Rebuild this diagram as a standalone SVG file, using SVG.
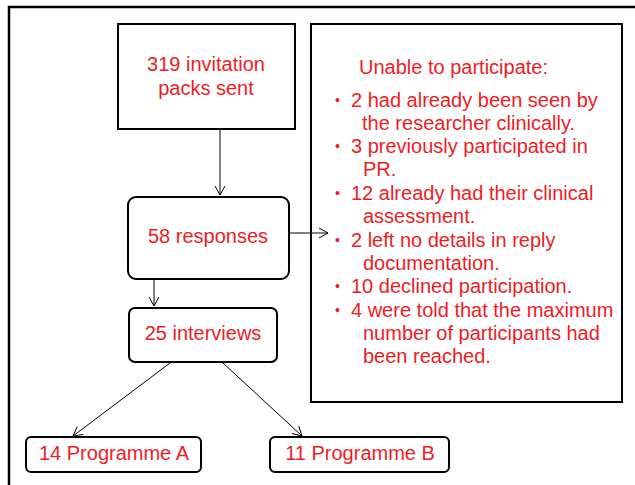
<svg xmlns="http://www.w3.org/2000/svg" width="635" height="485" viewBox="0 0 635 485">
<style>
.box{fill:#fff;stroke:#000;stroke-width:2}
.t{font-family:"Liberation Sans",Arial,sans-serif;font-size:20px;fill:#ee1c25}
.b{font-size:14px}
.c{text-anchor:middle}
.con{stroke:#000;stroke-width:1;fill:none}
</style>
<defs>
<marker id="ah" markerWidth="12" markerHeight="12" refX="10" refY="6" orient="auto" markerUnits="userSpaceOnUse">
<path d="M1,1 L10,6 L1,11" fill="none" stroke="#000" stroke-width="1"/>
</marker>
</defs>
<rect x="9" y="7" width="700" height="600" fill="#fff" stroke="#000" stroke-width="2.5"/>
<g id="n1">
<rect class="box" x="118" y="24" width="177" height="105"/>
<text class="t c" x="206" y="71">319 invitation</text>
<text class="t c" x="206" y="95">packs sent</text>
</g>
<g id="n3">
<rect class="box" x="311" y="24" width="311" height="378"/>
<text class="t" x="359" y="74">Unable to participate:</text>
<g class="t">
<text class="b" x="335" y="105">•</text><text x="351" y="107">2 had already been seen by</text>
<text x="362" y="130">the researcher clinically.</text>
<text class="b" x="335" y="151">•</text><text x="351" y="153">3 previously participated in</text>
<text x="363" y="176">PR.</text>
<text class="b" x="335" y="198">•</text><text x="351" y="200">12 already had their clinical</text>
<text x="363" y="223">assessment.</text>
<text class="b" x="335" y="245">•</text><text x="351" y="247">2 left no details in reply</text>
<text x="363" y="270">documentation.</text>
<text class="b" x="335" y="291">•</text><text x="351" y="293">10 declined participation.</text>
<text class="b" x="335" y="315">•</text><text x="351" y="317">4 were told that the maximum</text>
<text x="363" y="340">number of participants had</text>
<text x="363" y="363">been reached.</text>
</g>
</g>
<g id="n2">
<rect class="box" x="128" y="197" width="161" height="82" rx="8"/>
<text class="t c" x="208" y="243">58 responses</text>
</g>
<g id="n4">
<rect class="box" x="129" y="308" width="148" height="54" rx="6"/>
<text class="t c" x="203" y="340">25 interviews</text>
</g>
<g id="n5">
<rect class="box" x="26" y="437" width="175" height="35" rx="5"/>
<text class="t c" x="114" y="460">14 Programme A</text>
</g>
<g id="n6">
<rect class="box" x="270" y="437" width="179" height="35" rx="5"/>
<text class="t c" x="360" y="460">11 Programme B</text>
</g>
<g id="connectors">
<line class="con" x1="220" y1="129" x2="220" y2="195" marker-end="url(#ah)"/>
<line class="con" x1="289" y1="233" x2="328" y2="233" marker-end="url(#ah)"/>
<line class="con" x1="154" y1="280" x2="154" y2="306" marker-end="url(#ah)"/>
<line class="con" x1="170" y1="363" x2="73" y2="436" marker-end="url(#ah)"/>
<line class="con" x1="223" y1="363" x2="302" y2="436" marker-end="url(#ah)"/>
</g>
</svg>
